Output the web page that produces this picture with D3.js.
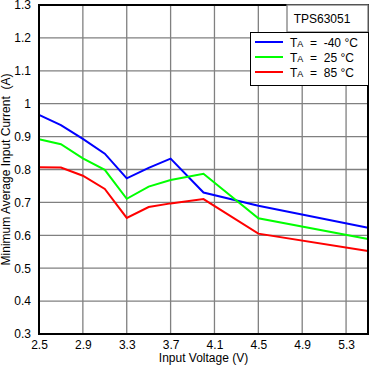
<!DOCTYPE html>
<html><head><meta charset="utf-8">
<script src="https://cdn.jsdelivr.net/npm/d3@7"></script>
<style>body{margin:0;background:#fff}svg{display:block}text{font-family:"Liberation Sans",Arial,sans-serif}</style>
</head><body>
<script>
const voltage = [2.5, 2.7, 2.9, 3.1, 3.3, 3.5, 3.7, 4.0, 4.5, 5.5];
const currentM40 = [0.966, 0.935, 0.893, 0.848, 0.773, 0.805, 0.833, 0.730, 0.690, 0.623];
const current25 = [0.892, 0.877, 0.834, 0.799, 0.711, 0.748, 0.768, 0.787, 0.652, 0.589];
const current85 = [0.807, 0.806, 0.781, 0.741, 0.653, 0.686, 0.697, 0.710, 0.605, 0.552];
const xTicks = [2.5, 2.9, 3.3, 3.7, 4.1, 4.5, 4.9, 5.3];
const yTicks = [0.3, 0.4, 0.5, 0.6, 0.7, 0.8, 0.9, 1, 1.1, 1.2, 1.3];
const seriesNames = ["-40 °C", "25 °C", "85 °C"];
const seriesColors = ["#0000ff", "#00ff00", "#ff0000"];
const seriesValues = [currentM40, current25, current85];

const W = 369, H = 368;
const L = 39, R = 368, T = 5, B = 334;
const svg = d3.select("body").append("svg").attr("width", W).attr("height", H);
const x = d3.scaleLinear().domain([2.5, 5.5]).range([L, R]);
const y = d3.scaleLinear().domain([0.3, 1.3]).range([B, T]);

// grid
const g = svg.append("g");
g.selectAll(".vg").data(xTicks.slice(1)).join("line")
  .attr("x1", d => x(d)).attr("x2", d => x(d)).attr("y1", T).attr("y2", B)
  .attr("stroke", "#808080").attr("stroke-width", 1.3);
g.selectAll(".hg").data(yTicks.slice(1, -1)).join("line")
  .attr("y1", d => y(d)).attr("y2", d => y(d)).attr("x1", L).attr("x2", R)
  .attr("stroke", "#808080").attr("stroke-width", 1.3);

// axes labels via d3 axes
const xAxis = d3.axisBottom(x).tickValues(xTicks).tickSize(0).tickPadding(6)
  .tickFormat(d3.format(".1f"));
const ax = svg.append("g").attr("transform", `translate(0,${B})`).call(xAxis);
ax.select(".domain").remove();
ax.selectAll("text").attr("font-size", 12).attr("fill", "#000")
  .attr("font-family", "Liberation Sans, Arial, sans-serif");
const yAxis = d3.axisLeft(y).tickValues(yTicks).tickSize(0).tickPadding(8)
  .tickFormat(d => d === 1 ? "1" : d3.format(".1f")(d));
const ay = svg.append("g").attr("transform", `translate(${L},0)`).call(yAxis);
ay.select(".domain").remove();
ay.selectAll("text").attr("font-size", 12).attr("fill", "#000")
  .attr("font-family", "Liberation Sans, Arial, sans-serif");

// series
const line = d3.line().x((d, i) => x(voltage[i])).y(d => y(d));
seriesValues.forEach((vals, k) => {
  svg.append("path").attr("d", line(vals)).attr("fill", "none")
    .attr("stroke", seriesColors[k]).attr("stroke-width", 2);
});

// frame
svg.append("rect").attr("x", L).attr("y", T).attr("width", R - L).attr("height", B - T)
  .attr("fill", "none").attr("stroke", "#000").attr("stroke-width", 2);

// TPS box
svg.append("rect").attr("x", 287).attr("y", T).attr("width", R - 287).attr("height", 27)
  .attr("fill", "#fff").attr("stroke", "#808080").attr("stroke-width", 1.3);
svg.append("text").attr("x", 322).attr("y", 23).attr("text-anchor", "middle")
  .attr("font-size", 12).text("TPS63051");

// legend
svg.append("rect").attr("x", 250.5).attr("y", 32.5).attr("width", 118).attr("height", 53)
  .attr("fill", "#fff").attr("stroke", "#000").attr("stroke-width", 1);
seriesNames.forEach((n, k) => {
  const yy = 42 + k * 15;
  svg.append("line").attr("x1", 255).attr("x2", 283).attr("y1", yy).attr("y2", yy)
    .attr("stroke", seriesColors[k]).attr("stroke-width", 2);
  const t = svg.append("text").attr("x", 290).attr("y", yy + 4.5).attr("font-size", 12)
    .attr("xml:space", "preserve").style("white-space", "pre");
  t.append("tspan").text("T");
  t.append("tspan").attr("font-size", 9).text("A");
  t.append("tspan").text("  =  " + n);
});

// axis titles
svg.append("text").attr("x", (L + R) / 2).attr("y", 362).attr("text-anchor", "middle")
  .attr("font-size", 12).text("Input Voltage (V)");
svg.append("text").attr("transform", `translate(10,${(T + B) / 2}) rotate(-90)`)
  .attr("text-anchor", "middle").attr("font-size", 12).style("white-space", "pre")
  .text("Minimum Average Input Current  (A)");
</script>
</body></html>
